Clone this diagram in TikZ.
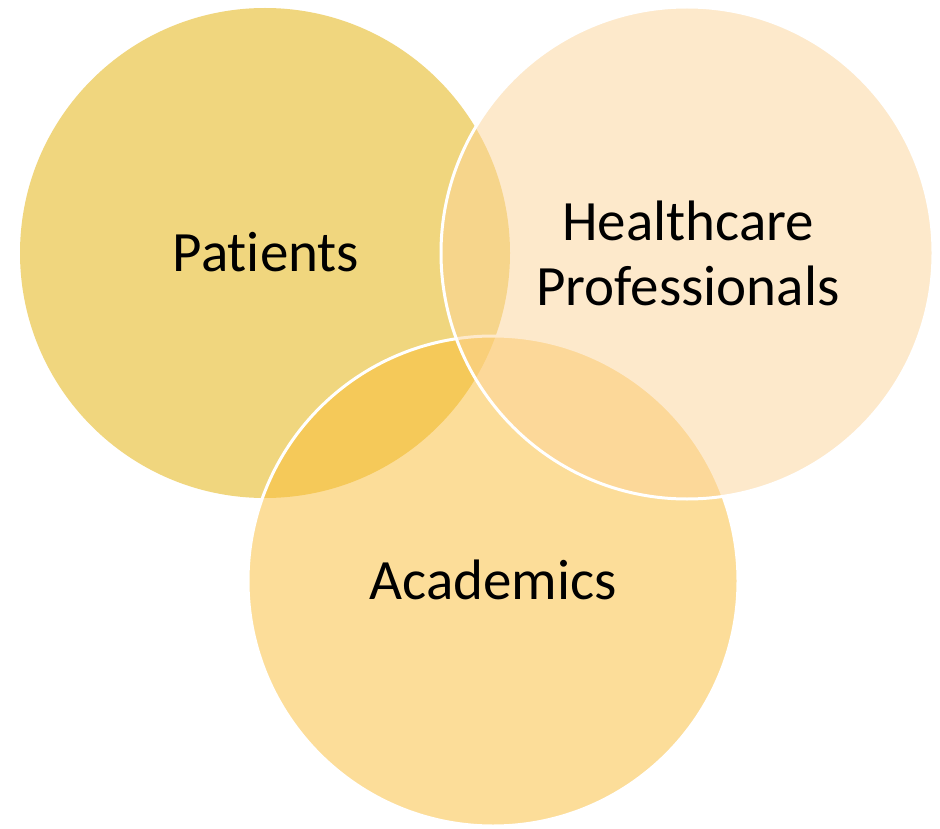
\documentclass[tikz,border=0pt]{standalone}
\usepackage{fontspec}
\setmainfont[Ligatures=NoCommon]{Carlito}
\definecolor{patcol}{RGB}{240,214,126}
\definecolor{acacol}{RGB}{251,189,53}
\definecolor{hcpcol}{RGB}{253,213,153}
\begin{document}
\begin{tikzpicture}[x=1pt,y=-1pt,
  lbl/.style={font=\fontsize{57}{65}\selectfont, align=center, text=black},
  ring/.style={draw=white, line width=3pt}]
\useasboundingbox (0,0) rectangle (940,829);
\fill[white] (0,0) rectangle (940,829);
% circles
\coordinate (cP) at (265,253);
\coordinate (cA) at (493,581);
\coordinate (cH) at (687,253);
\fill[patcol] (cP) circle[radius=245];
\fill[acacol, fill opacity=0.5] (cA) circle[radius=245];
\draw[ring] (cA) circle[radius=245];
\fill[hcpcol, fill opacity=0.5] (cH) circle[radius=246];
\draw[ring] (cH) circle[radius=246];
% labels
\node[lbl] (tP) at (266,252) {Patients};
\node[lbl] (tH) at (688,253) {Healthcare\\Professionals};
\node[lbl] (tA) at (493,580) {Academics};
\end{tikzpicture}
\end{document}
